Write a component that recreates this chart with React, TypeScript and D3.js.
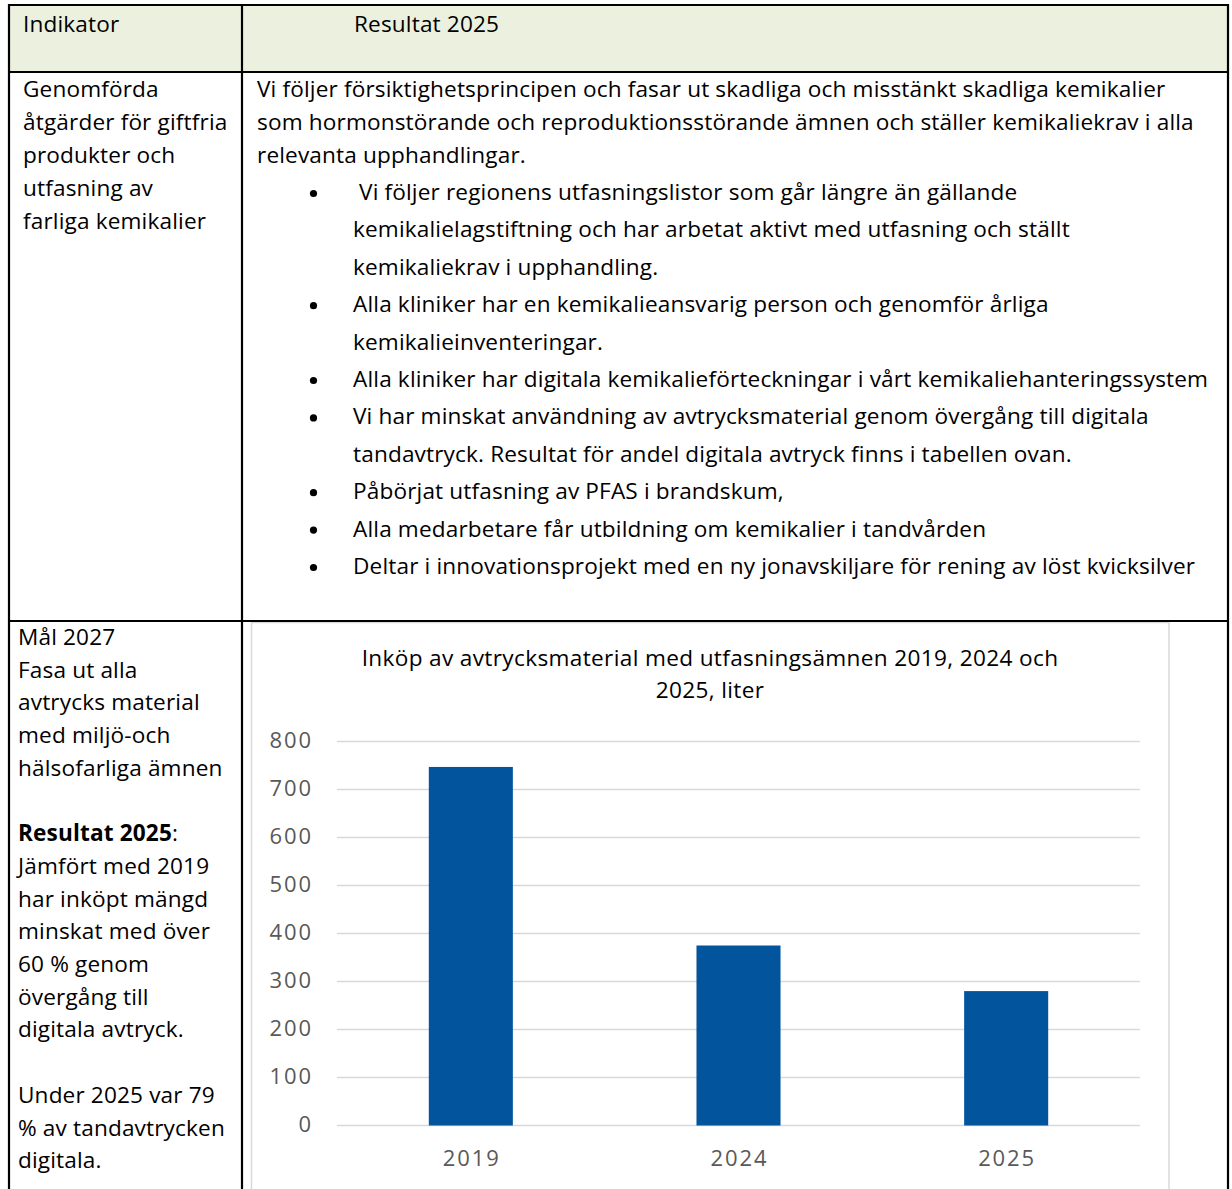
import React from "react";
import * as d3 from "d3";

const years = ["2019", "2024", "2025"];
const liters = [747, 375, 280];
const yTicks = [0, 100, 200, 300, 400, 500, 600, 700, 800];

const headerLeft = "Indikator";
const headerRight = "Resultat 2025";
const row2Left = ["Genomförda", "åtgärder för giftfria", "produkter och", "utfasning av", "farliga kemikalier"];
const row2Para = [
  "Vi följer försiktighetsprincipen och fasar ut skadliga och misstänkt skadliga kemikalier",
  "som hormonstörande och reproduktionsstörande ämnen och ställer kemikaliekrav i alla",
  "relevanta upphandlingar.",
];
const bullets: string[][] = [
  ["\u00a0Vi följer regionens utfasningslistor som går längre än gällande", "kemikalielagstiftning och har arbetat aktivt med utfasning och ställt", "kemikaliekrav i upphandling."],
  ["Alla kliniker har en kemikalieansvarig person och genomför årliga", "kemikalieinventeringar."],
  ["Alla kliniker har digitala kemikalieförteckningar i vårt kemikaliehanteringssystem"],
  ["Vi har minskat användning av avtrycksmaterial genom övergång till digitala", "tandavtryck. Resultat för andel digitala avtryck finns i tabellen ovan."],
  ["Påbörjat utfasning av PFAS i brandskum,"],
  ["Alla medarbetare får utbildning om kemikalier i tandvården"],
  ["Deltar i innovationsprojekt med en ny jonavskiljare för rening av löst kvicksilver"],
];
const row3Left: { text: string; bold?: string }[] = [
  { text: "Mål 2027" },
  { text: "Fasa ut alla" },
  { text: "avtrycks material" },
  { text: "med miljö-och" },
  { text: "hälsofarliga ämnen" },
  { text: "" },
  { text: ":", bold: "Resultat 2025" },
  { text: "Jämfört med 2019" },
  { text: "har inköpt mängd" },
  { text: "minskat med över" },
  { text: "60 % genom" },
  { text: "övergång till" },
  { text: "digitala avtryck." },
  { text: "" },
  { text: "Under 2025 var 79" },
  { text: "% av tandavtrycken" },
  { text: "digitala." },
];
const chartTitle = ["Inköp av avtrycksmaterial med utfasningsämnen 2019, 2024 och", "2025, liter"];

const W = 1232;
const H = 1189;
const FONT = "'Open Sans', 'Noto Sans', sans-serif";
const TICKFONT = "'Open Sans', sans-serif";

export default function App() {
  const x = d3.scaleBand<string>().domain(years).range([337, 1140]).paddingInner(0.686).paddingOuter(0.343);
  const y = d3.scaleLinear().domain([0, 800]).range([1125.5, 741.5]);

  const bulletLines: { t: string; first: boolean }[] = [];
  bullets.forEach((b) => b.forEach((t, i) => bulletLines.push({ t, first: i === 0 })));

  const fs = 22.6;
  const bls = 0.15;
  const tfs = 22;
  const ls = 1.9;
  return (
    <svg
      width={W}
      height={H}
      style={{ position: "absolute", left: 0, top: 0, background: "#fff" }}
      fontFamily={FONT}
    >
      <rect x={0} y={0} width={W} height={H} fill="#fff" />
      {/* header */}
      <rect x={9} y={5} width={1219} height={67} fill="#EBF1DE" />
      <g fontSize={fs} fill="#000" letterSpacing={bls}>
        <text x={23} y={32}>{headerLeft}</text>
        <text x={354} y={32}>{headerRight}</text>

        {/* row 2 */}
        {row2Left.map((t, i) => (
          <text key={"r2l" + i} x={23} y={97 + i * 33}>{t}</text>
        ))}
        {row2Para.map((t, i) => (
          <text key={"r2p" + i} x={257} y={97 + i * 33}>{t}</text>
        ))}
        {bulletLines.map((l, i) => (
          <g key={"bl" + i}>
            {l.first && <circle cx={313.5} cy={193.5 + i * 37.4} r={3.6} fill="#000" />}
            <text x={353} y={200 + i * 37.4} style={{ whiteSpace: "pre" }}>{l.t}</text>
          </g>
        ))}

        {/* row 3 left */}
        {row3Left.map((r, i) => (
          <text key={"r3" + i} x={18} y={645 + i * 32.7}>
            {r.bold && <tspan fontWeight="bold">{r.bold}</tspan>}
            {r.text}
          </text>
        ))}
      </g>

      {/* chart box */}
      <rect x={251.5} y={622.5} width={917.5} height={600} fill="#fff" stroke="#D9D9D9" strokeWidth={1.5} />
      {chartTitle.map((t, i) => (
        <text key={"ct" + i} x={710} y={666 + i * 32} fontSize={fs} letterSpacing={0.35} textAnchor="middle" fill="#000">{t}</text>
      ))}
      {yTicks.map((v) => (
        <g key={"yt" + v}>
          <line x1={337} x2={1140} y1={y(v)} y2={y(v)} stroke="#D9D9D9" strokeWidth={1.5} />
          <text x={311 + ls} y={y(v) + 6} fontSize={tfs} letterSpacing={ls} textAnchor="end" fill="#595959" fontFamily={TICKFONT}>{v}</text>
        </g>
      ))}
      {years.map((yr, i) => (
        <rect key={"b" + yr} x={x(yr)} y={y(liters[i])} width={x.bandwidth()} height={y(0) - y(liters[i])} fill="#02559D" />
      ))}
      {years.map((yr) => (
        <text key={"xl" + yr} x={(x(yr) as number) + x.bandwidth() / 2 + ls / 2} y={1165.5} fontSize={tfs} letterSpacing={ls} textAnchor="middle" fill="#595959" fontFamily={TICKFONT}>{yr}</text>
      ))}

      {/* table borders */}
      <g stroke="#000" strokeWidth={2.2}>
        <line x1={9} x2={9} y1={4} y2={H} />
        <line x1={1228} x2={1228} y1={4} y2={H} />
        <line x1={242} x2={242} y1={4} y2={H} />
        <line x1={8} x2={1229} y1={5} y2={5} />
        <line x1={8} x2={1229} y1={72} y2={72} />
        <line x1={8} x2={1229} y1={621} y2={621} />
      </g>
    </svg>
  );
}
